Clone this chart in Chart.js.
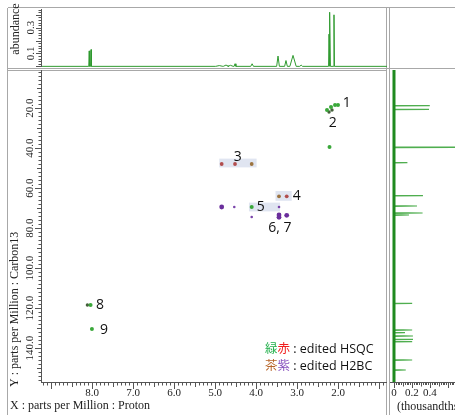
<!DOCTYPE html>
<html>
<head>
<meta charset="utf-8">
<script src="https://cdn.jsdelivr.net/npm/chart.js@4.4.0/dist/chart.umd.min.js"></script>
<style>
  html, body { margin: 0; padding: 0; background: #fff; overflow: hidden; }
  #wrap { position: relative; width: 455px; height: 415px; }
  #wrap canvas { position: absolute; left: 0; top: 0; }
</style>
</head>
<body>
<div id="wrap">
  <canvas id="mainChart" width="455" height="415"></canvas>
  <canvas id="topChart" width="455" height="415"></canvas>
  <canvas id="sideChart" width="455" height="415"></canvas>
</div>
<script>
// axis ranges (ppm); both drawn reversed
const xRange = [0.805, 9.244];
const yRange = [1.0, 157.5];
const xTicks = [2, 3, 4, 5, 6, 7, 8];
const yTicks = [20, 40, 60, 80, 100, 120, 140];
const abundTicks = [0.1, 0.3];
const sideTicks = [0, 0.2, 0.4];

// edited HSQC cross peaks (1H ppm / 13C ppm)
const hsqcGreenH = [2.269, 2.171, 2.073, 2.000, 2.207, 4.105, 8.035, 8.002];
const hsqcGreenC = [21.0, 19.5, 18.5, 18.5, 39.5, 69.5, 118.5, 130.5];
const hsqcDarkH = [2.146, 2.219, 8.112];
const hsqcDarkC = [21.0, 22.0, 118.5];
const hsqcRedH = [4.837, 4.512, 3.251];
const hsqcRedC = [48.0, 48.0, 64.15];
// edited H2BC cross peaks
const h2bcBrownH = [4.105, 3.439];
const h2bcBrownC = [48.0, 64.15];
const h2bcPurpleH = [4.837, 3.439, 3.439, 3.251];
const h2bcPurpleC = [69.5, 73.5, 74.65, 73.65];
const h2bcWeakH = [4.530, 3.439, 4.105];
const h2bcWeakC = [69.5, 69.5, 74.5];

// peak numbering
const peakLabels = ['1', '2', '3', '4', '5', '6, 7', '8', '9'];
const labelH = [1.788, 2.129, 4.446, 3.007, 3.886, 3.415, 7.805, 7.706];
const labelC = [17.6, 27.6, 44.3, 64.15, 69.5, 80.2, 118.5, 131.0];

// shaded regions
const boxH = [[4.896, 3.985], [3.524, 3.129], [4.172, 3.415]];
const boxC = [[45.3, 49.7], [61.5, 66.4], [67.3, 71.7]];

// 1H projection
const protonPpm = [8.068, 8.024, 4.896, 4.732, 4.622, 4.512, 4.095, 3.463, 3.269, 3.097, 2.899, 2.219, 2.196, 2.098];
const protonAbund = [0.12, 0.13, 0.006, 0.01, 0.008, 0.02, 0.02, 0.08, 0.045, 0.085, 0.01, 0.25, 0.42, 0.40];
const protonWidth = [0.011, 0.011, 0.088, 0.066, 0.066, 0.022, 0.033, 0.033, 0.033, 0.077, 0.033, 0.011, 0.011, 0.011];

// 13C projection
const carbonPpm = [18.85, 20.65, 39.65, 47.35, 63.85, 69.0, 72.5, 73.5, 117.65, 131.0, 132.35, 134.0, 135.65, 136.85, 146.0, 151.0];
const carbonInt = [0.398, 0.389, 1.32, 0.149, 0.322, 0.256, 0.318, 0.167, 0.202, 0.202, 0.122, 0.211, 0.211, 0.202, 0.202, 0.131];

const serif = '"Liberation Serif", "Times New Roman", serif';
const sans = '"Open Sans", "Noto Sans", "Noto Sans CJK JP", sans-serif';

function pts(hs, cs) {
    return hs.map((h, i) => ({ x: h, y: cs[i] }));
}

// peak list -> stick trace along the axis
function sticks(pos, height, width, lo, hi) {
    const order = pos.map((p, i) => i).sort((a, b) => pos[b] - pos[a]);
    const out = [{ p: hi, v: 0 }];
    order.forEach(i => {
        out.push({ p: pos[i] + width[i], v: 0 }, { p: pos[i], v: height[i] }, { p: pos[i] - width[i], v: 0 });
    });
    out.push({ p: lo, v: 0 });
    return out;
}

function line(ctx, x0, y0, x1, y1) {
    ctx.beginPath();
    ctx.moveTo(x0, y0);
    ctx.lineTo(x1, y1);
    ctx.stroke();
}

function vText(ctx, t, x, y, align) {
    ctx.save();
    ctx.translate(x, y);
    ctx.rotate(-Math.PI / 2);
    ctx.textAlign = align || 'center';
    ctx.textBaseline = 'middle';
    ctx.fillText(t, 0, 0);
    ctx.restore();
}

function eachStep(from, to, step, fn) {
    for (let i = Math.ceil(from / step - 1e-9); i * step <= to + 1e-9; i++) fn(i * step, i);
}

const mainDecor = {
    id: 'mainDecor',
    beforeDatasetsDraw(chart) {
        const { ctx, scales: { x, y } } = chart;
        ctx.save();
        ctx.fillStyle = 'rgba(214,220,236,0.75)';
        boxH.forEach((b, i) => {
            const x0 = x.getPixelForValue(b[0]), x1 = x.getPixelForValue(b[1]);
            const y0 = y.getPixelForValue(boxC[i][0]), y1 = y.getPixelForValue(boxC[i][1]);
            ctx.fillRect(x0, y0, x1 - x0, y1 - y0);
        });
        ctx.restore();
    },
    afterDraw(chart) {
        const { ctx, chartArea: a, scales: { x, y } } = chart;
        ctx.save();
        // panel frames
        ctx.strokeStyle = '#a8a8a8';
        ctx.lineWidth = 1;
        line(ctx, 7.5, 8, 7.5, 415);
        line(ctx, 8, 7.5, 455, 7.5);
        line(ctx, 386.5, 8, 386.5, 415);
        line(ctx, 389.5, 8, 389.5, 415);
        line(ctx, 8, 68.5, 455, 68.5);
        line(ctx, 8, 70.5, 387, 70.5);

        // axes
        ctx.strokeStyle = '#555';
        line(ctx, a.left + 0.5, a.top, a.left + 0.5, a.bottom);
        line(ctx, a.left, a.bottom - 0.5, a.right, a.bottom - 0.5);
        eachStep(xRange[0], xRange[1], 0.1, (v, i) => {
            const px = Math.round(x.getPixelForValue(v)) + 0.5;
            const len = i % 10 === 0 ? 6 : (i % 5 === 0 ? 4 : 2.5);
            line(ctx, px, a.bottom, px, a.bottom + len);
        });
        eachStep(yRange[0], yRange[1], 2, (v, i) => {
            const py = Math.round(y.getPixelForValue(v)) + 0.5;
            const len = i % 10 === 0 ? 6 : (i % 5 === 0 ? 4 : 2.5);
            line(ctx, a.left, py, a.left - len, py);
        });

        ctx.fillStyle = '#222';
        ctx.font = '11px ' + serif;
        ctx.textAlign = 'center';
        ctx.textBaseline = 'middle';
        xTicks.forEach(v => ctx.fillText(v.toFixed(1), x.getPixelForValue(v), 393));
        yTicks.forEach(v => vText(ctx, v.toFixed(1), 30, y.getPixelForValue(v)));

        ctx.font = '12px ' + serif;
        ctx.textAlign = 'left';
        ctx.fillText('X : parts per Million : Proton', 10, 406);
        vText(ctx, 'Y : parts per Million : Carbon13', 15, 387, 'left');

        // peak numbers
        ctx.font = '14px ' + sans;
        ctx.fillStyle = '#111';
        ctx.textAlign = 'center';
        peakLabels.forEach((t, i) => {
            ctx.fillText(t, x.getPixelForValue(labelH[i]), y.getPixelForValue(labelC[i]));
        });

        // colour key
        ctx.font = '12.5px ' + sans;
        ctx.textAlign = 'left';
        const key = [
            [['緑', '#22b04b'], ['赤', '#f01e1e'], [' : edited HSQC', '#111']],
            [['茶', '#b8662a'], ['紫', '#8a55c0'], [' : edited H2BC', '#111']]
        ];
        key.forEach((row, r) => {
            let cx = 265;
            row.forEach(([t, c]) => {
                ctx.fillStyle = c;
                ctx.fillText(t, cx, 349 + r * 17);
                cx += ctx.measureText(t).width;
            });
        });
        ctx.restore();
    }
};

const topDecor = {
    id: 'topDecor',
    afterDraw(chart) {
        const { ctx, chartArea: a, scales: { y } } = chart;
        ctx.save();
        ctx.strokeStyle = '#555';
        ctx.lineWidth = 1;
        line(ctx, a.left + 0.5, a.top, a.left + 0.5, a.bottom);
        eachStep(0, 0.44, 0.02, (v, i) => {
            const py = Math.round(y.getPixelForValue(v)) + 0.5;
            const len = i % 5 === 0 ? 5 : 2.5;
            line(ctx, a.left, py, a.left - len, py);
        });
        ctx.fillStyle = '#222';
        ctx.font = '11px ' + serif;
        abundTicks.forEach(v => vText(ctx, v.toFixed(1), 31, y.getPixelForValue(v)));
        ctx.font = '12px ' + serif;
        vText(ctx, 'abundance', 16, 29);
        ctx.restore();
    }
};

const sideDecor = {
    id: 'sideDecor',
    afterDraw(chart) {
        const { ctx, chartArea: a, scales: { x } } = chart;
        ctx.save();
        ctx.strokeStyle = '#555';
        ctx.lineWidth = 1;
        line(ctx, a.left, a.bottom - 0.5, a.right, a.bottom - 0.5);
        eachStep(0, 0.66, 0.02, (v, i) => {
            const px = Math.round(x.getPixelForValue(v)) + 0.5;
            const len = i % 10 === 0 ? 5 : (i % 5 === 0 ? 3.5 : 2);
            line(ctx, px, a.bottom, px, a.bottom + len);
        });
        ctx.fillStyle = '#222';
        ctx.font = '11px ' + serif;
        ctx.textAlign = 'center';
        ctx.textBaseline = 'middle';
        sideTicks.forEach(v => ctx.fillText(String(v), x.getPixelForValue(v), 393));
        ctx.font = '12px ' + serif;
        ctx.textAlign = 'left';
        ctx.fillText('(thousandths of abundance)', 397, 407);
        ctx.restore();
    }
};

const common = {
    responsive: false,
    animation: false,
    plugins: { legend: { display: false }, tooltip: { enabled: false } }
};

// 2D map
new Chart(document.getElementById('mainChart'), {
    type: 'scatter',
    data: {
        datasets: [
            { data: pts(hsqcGreenH, hsqcGreenC), backgroundColor: '#3aa83a', pointRadius: 2, borderWidth: 0 },
            { data: pts(hsqcDarkH, hsqcDarkC), backgroundColor: '#44603a', pointRadius: 1.7, borderWidth: 0 },
            { data: pts(hsqcRedH, hsqcRedC), backgroundColor: '#b24e4e', pointRadius: 1.9, borderWidth: 0 },
            { data: pts(h2bcBrownH, h2bcBrownC), backgroundColor: '#9c7440', pointRadius: 1.9, borderWidth: 0 },
            { data: pts(h2bcPurpleH, h2bcPurpleC), backgroundColor: '#6a2e9c', pointRadius: 2.4, borderWidth: 0 },
            { data: pts(h2bcWeakH, h2bcWeakC), backgroundColor: '#7a45aa', pointRadius: 1.3, borderWidth: 0 }
        ]
    },
    options: {
        ...common,
        layout: { padding: { left: 41, right: 68, top: 70, bottom: 32 } },
        scales: {
            x: { type: 'linear', reverse: true, min: xRange[0], max: xRange[1], display: false },
            y: { type: 'linear', reverse: true, min: yRange[0], max: yRange[1], display: false }
        }
    },
    plugins: [mainDecor]
});

// 1H projection on top
new Chart(document.getElementById('topChart'), {
    type: 'scatter',
    data: {
        datasets: [{
            data: sticks(protonPpm, protonAbund, protonWidth, xRange[0], xRange[1]).map(s => ({ x: s.p, y: s.v })),
            showLine: true, borderColor: '#2f9a2f', borderWidth: 1, pointRadius: 0
        }]
    },
    options: {
        ...common,
        layout: { padding: { left: 41, right: 68, top: 9, bottom: 348 } },
        scales: {
            x: { type: 'linear', reverse: true, min: xRange[0], max: xRange[1], display: false },
            y: { type: 'linear', min: -0.005, max: 0.445, display: false }
        }
    },
    plugins: [topDecor]
});

// 13C projection on the right
new Chart(document.getElementById('sideChart'), {
    type: 'scatter',
    data: {
        datasets: [
            {
                data: [{ x: 0, y: yRange[0] }, { x: 0, y: yRange[1] }],
                showLine: true, borderColor: '#1f8a1f', borderWidth: 3, pointRadius: 0
            },
            {
                data: sticks(carbonPpm, carbonInt, carbonPpm.map(() => 0.15), yRange[0], yRange[1]).map(s => ({ x: s.v, y: s.p })),
                showLine: true, borderColor: '#4fae4f', borderWidth: 1.2, pointRadius: 0
            }
        ]
    },
    options: {
        ...common,
        layout: { padding: { left: 390, right: 0, top: 70, bottom: 32 } },
        scales: {
            x: { type: 'linear', min: -0.0444, max: 0.678, display: false },
            y: { type: 'linear', reverse: true, min: yRange[0], max: yRange[1], display: false }
        }
    },
    plugins: [sideDecor]
});
</script>
</body>
</html>
